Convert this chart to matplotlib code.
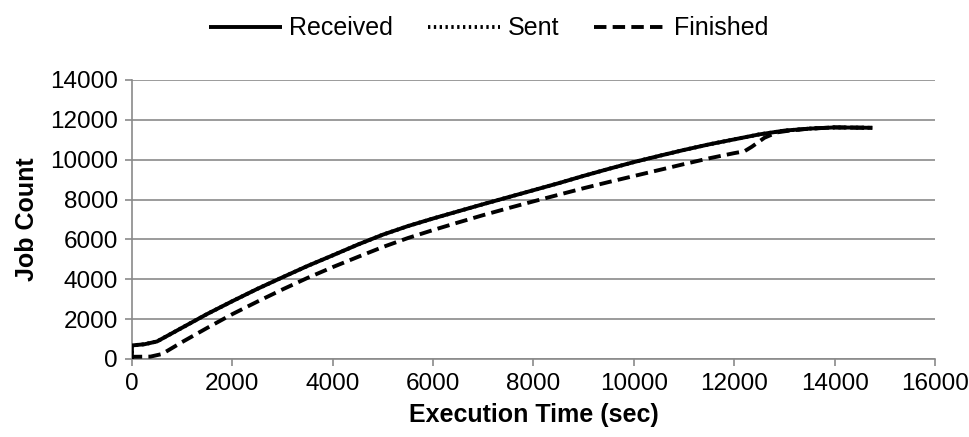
import matplotlib
matplotlib.use("Agg")
import matplotlib.pyplot as plt

plt.rcParams['font.family'] = ['Liberation Sans', 'DejaVu Sans']

# Data
received_x = [0, 0, 250, 500, 1000, 1500, 2000, 2500, 3000, 3500, 4000, 4500,
              5000, 5500, 6000, 6500, 7000, 7500, 8000, 8500, 9000, 9500, 10000,
              10500, 11000, 11500, 12000, 12500, 13000, 13500, 14000, 14750]
received_y = [0, 680, 740, 880, 1570, 2260, 2900, 3520, 4100, 4670, 5200, 5740,
              6240, 6670, 7050, 7410, 7770, 8120, 8470, 8820, 9190, 9540, 9880,
              10190, 10490, 10770, 11020, 11270, 11460, 11560, 11620, 11600]

sent_x = list(received_x)
sent_y = list(received_y)

finished_x = [0, 0, 370, 600, 1000, 1500, 2000, 2500, 3000, 3500, 4000, 4500,
              5000, 5500, 6000, 6500, 7000, 7500, 8000, 8500, 9000, 9500, 10000,
              10500, 11000, 11500, 12000, 12200, 12350, 12600, 12850, 13100,
              13500, 14000, 14750]
finished_y = [0, 110, 120, 250, 850, 1560, 2250, 2880, 3490, 4070, 4610, 5120,
              5620, 6070, 6470, 6850, 7220, 7570, 7910, 8240, 8570, 8880, 9180,
              9480, 9780, 10070, 10330, 10420, 10650, 11100, 11370, 11460,
              11560, 11620, 11600]

x_ticks = [0, 2000, 4000, 6000, 8000, 10000, 12000, 14000, 16000]
y_ticks = [0, 2000, 4000, 6000, 8000, 10000, 12000, 14000]

fig = plt.figure(figsize=(9.7, 4.37), dpi=100)
ax = fig.add_axes([0.136, 0.1785, 0.828, 0.6385])

lw = 2.8
ax.plot(sent_x, sent_y, color='black', lw=lw, linestyle=(0, (0.6, 0.9)),
        label='Sent', zorder=3)
ax.plot(finished_x, finished_y, color='black', lw=lw, linestyle=(0, (3.2, 1.6)),
        label='Finished', zorder=3)
ax.plot(received_x, received_y, color='black', lw=lw, solid_capstyle='butt',
        solid_joinstyle='round', label='Received', zorder=4)

ax.set_xlim(0, 16000)
ax.set_ylim(0, 14000)
ax.set_xticks(x_ticks)
ax.set_yticks(y_ticks)
ax.set_xticklabels([str(v) for v in x_ticks])
ax.set_yticklabels([str(v) for v in y_ticks])

grid_c = '#8a8a8a'
ax.yaxis.grid(True, color=grid_c, lw=1.2)
ax.set_axisbelow(True)
for s in ['top', 'right']:
    ax.spines[s].set_visible(False)
for s in ['left', 'bottom']:
    ax.spines[s].set_color(grid_c)
    ax.spines[s].set_linewidth(1.2)
ax.tick_params(axis='both', colors=grid_c, length=5, width=1.2,
               labelcolor='black', labelsize=17.5)
ax.tick_params(axis='x', pad=5)
ax.tick_params(axis='y', pad=5)

ax.set_xlabel('Execution Time (sec)', fontsize=18, fontweight='bold', labelpad=6)
ax.set_ylabel('Job Count', fontsize=18, fontweight='bold', labelpad=8)

handles, labels = ax.get_legend_handles_labels()
order = [labels.index('Received'), labels.index('Sent'), labels.index('Finished')]
leg = fig.legend([handles[i] for i in order], [labels[i] for i in order],
                 loc='center', bbox_to_anchor=(0.504, 0.935), ncol=3, frameon=False,
                 fontsize=18, handlelength=2.9, handletextpad=0.3,
                 columnspacing=1.4)

fig.savefig('out.png', dpi=100)
